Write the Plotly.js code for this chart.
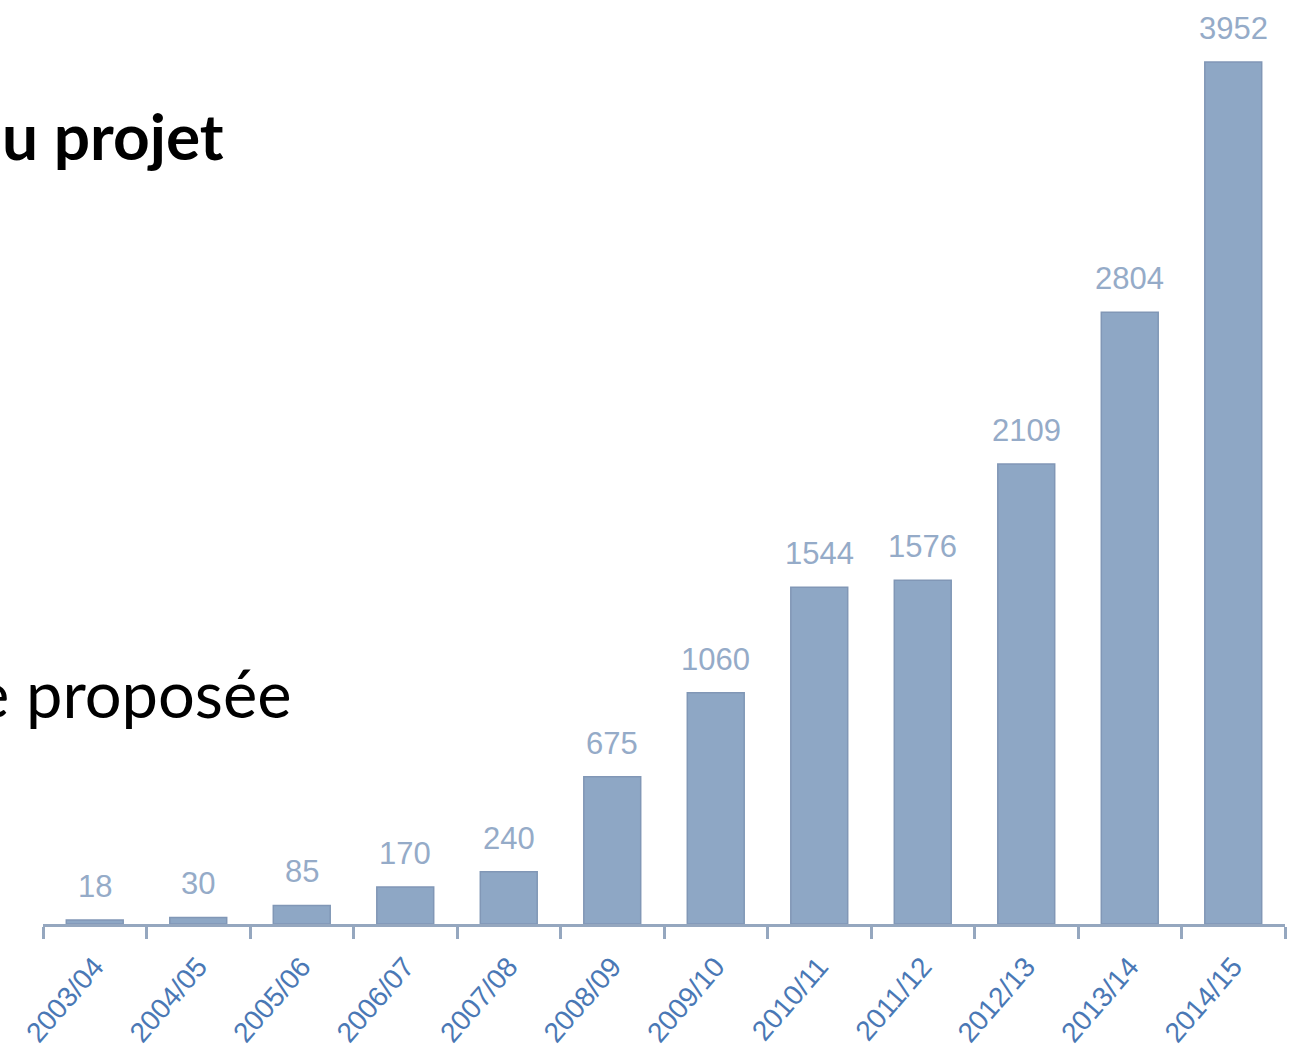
<!DOCTYPE html>
<html>
<head>
<meta charset="utf-8">
<script src="https://cdn.plot.ly/plotly-3.0.1.min.js"></script>
<style>html,body{margin:0;padding:0;background:#fff;}#chart{width:1299px;height:1050px;}</style>
</head>
<body>
<div id="chart"></div>
<script>
const categories = ["2003/04","2004/05","2005/06","2006/07","2007/08","2008/09","2009/10","2010/11","2011/12","2012/13","2013/14","2014/15"];
const values = [18, 30, 85, 170, 240, 675, 1060, 1544, 1576, 2109, 2804, 3952];
const slideTexts = ["u projet", "e proposée"];

const trace = {
  type: "bar",
  x: categories,
  y: values,
  marker: {color: "#8EA7C5", line: {color: "#8197B6", width: 1.5}},
  hoverinfo: "none"
};

const valueLabels = categories.map((c, i) => ({
  x: c, y: values[i], xref: "x", yref: "y",
  text: String(values[i]), showarrow: false,
  xanchor: "center", yanchor: "bottom", yshift: 14,
  font: {family: "Liberation Sans, Arial, sans-serif", size: 31, color: "#95ABC8"}
}));

const layout = {
  width: 1299, height: 1050,
  margin: {l: 43, r: 14, t: 10, b: 126},
  paper_bgcolor: "#ffffff", plot_bgcolor: "#ffffff",
  bargap: 0.45,
  showlegend: false,
  xaxis: {
    type: "category",
    showline: true, linecolor: "#95A7BF", linewidth: 3,
    ticks: "outside", tickson: "boundaries", ticklen: 12, tickwidth: 3, tickcolor: "#95A7BF",
    tickangle: -49,
    ticklabelstandoff: 12,
    tickfont: {family: "Liberation Sans, Arial, sans-serif", size: 28, color: "#4A78B5"},
    showgrid: false, zeroline: false
  },
  yaxis: {
    range: [0, 4190], visible: false, showgrid: false, zeroline: false
  },
  annotations: [
    {text: "<b>" + slideTexts[0] + "</b>", xref: "paper", yref: "paper", x: -43/1242, y: (1050-126-135)/914, xanchor: "left", yanchor: "middle", showarrow: false,
     font: {family: "Lato, Open Sans, sans-serif", size: 64, color: "#000"}},
    {text: slideTexts[1], xref: "paper", yref: "paper", x: -70/1242, y: (1050-126-693)/914, xanchor: "left", yanchor: "middle", showarrow: false,
     font: {family: "Lato, Open Sans, sans-serif", size: 65, color: "#000"}}
  ].concat(valueLabels)
};

Plotly.newPlot("chart", [trace], layout, {displayModeBar: false, staticPlot: true});
</script>
</body>
</html>
